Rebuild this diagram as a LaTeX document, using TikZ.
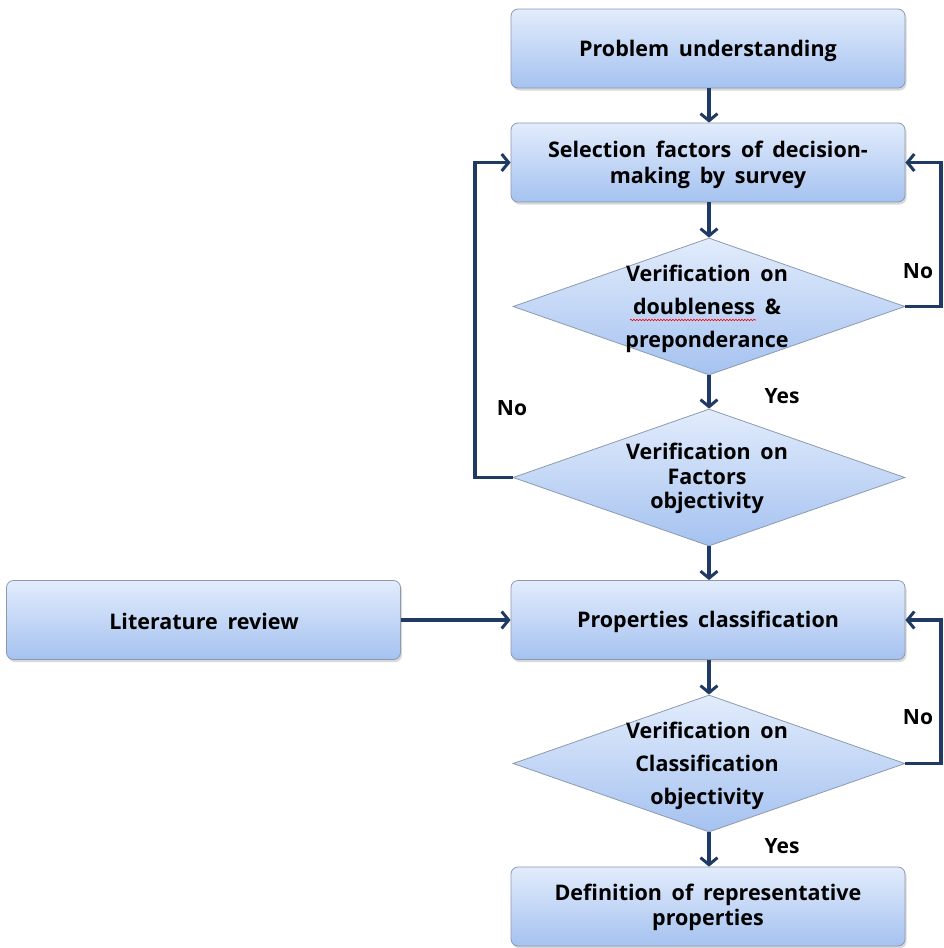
\documentclass[tikz,border=0pt]{standalone}
\usepackage{fontspec}
\setmainfont{Open Sans}
\usetikzlibrary{arrows.meta,shapes.geometric,shadows,decorations.pathmorphing}
\definecolor{linec}{HTML}{1F3B63}
\definecolor{topc}{HTML}{E2ECFC}
\definecolor{botc}{HTML}{A5C2F0}
\definecolor{edgec}{HTML}{8C9AB0}
\tikzset{
  boxnode/.style={draw=edgec, line width=0.8pt, rounded corners=7pt, top color=topc, bottom color=botc,
    minimum width=394pt, minimum height=79pt, inner sep=0pt,
    drop shadow={opacity=0.3, shadow xshift=1.5pt, shadow yshift=-2.5pt}},
  diamnode/.style={draw=edgec, line width=0.8pt, diamond, top color=topc, bottom color=botc,
    minimum width=392pt, minimum height=137pt, inner sep=0pt},
  txt/.style={font=\bfseries\fontsize{21.5}{25.5}\selectfont, align=center, text=black},
  dtxt/.style={font=\bfseries\fontsize{21.5}{33}\selectfont, align=center, text=black},
  lbl/.style={font=\bfseries\fontsize{21}{24}\selectfont, text=black},
  conn/.style={draw=linec, line width=3.2pt},
  arr/.style={conn, -{Straight Barb[length=7pt,width=17pt,line width=3pt]}},
}
\newcommand{\ws}{\hspace{0.45em}}
\begin{document}
\begin{tikzpicture}[x=1pt,y=-1pt]
\useasboundingbox (0,0) rectangle (944,948);
% boxes
\node[boxnode] (pu) at (708,48.5) {};
\node[txt] (put) at (708,50.5) {Problem\ws understanding};
\node[boxnode] (sf) at (708,162.5) {};
\node[txt] (sft) at (708,165) {Selection\ws factors\ws of\ws decision-\\making\ws by\ws survey};
\node[diamnode] (d1) at (709,306.5) {};
\node[dtxt] (d1t) at (707,308.5) {Verification\ws on\\doubleness\ws \&\\preponderance};
\draw[red, line width=0.6pt, decorate, decoration={snake, amplitude=0.8pt, segment length=3pt}] (630,320) -- (756,320);
\node[diamnode] (d2) at (709,477.5) {};
\node[dtxt] (d2t) at (707,478) {Verification\ws on\\[-8pt]Factors\\[-9pt]objectivity};
\node[boxnode] (lr) at (203.5,620) {};
\node[txt] (lrt) at (204,621) {Literature\ws review};
\node[boxnode] (pc) at (708,620) {};
\node[txt] (pct) at (708,621.5) {Properties\ws classification};
\node[diamnode] (d3) at (709,763.5) {};
\node[dtxt] (d3t) at (707,765.5) {Verification\ws on\\Classification\\objectivity};
\node[boxnode] (df) at (708,906.5) {};
\node[txt] (dft) at (708,907.5) {Definition\ws of\ws representative\\properties};
% connectors
\draw[arr] (pu.south -| 709,0) -- (sf.north -| 709,0);
\draw[arr] (sf.south -| 709,0) -- (d1.north);
\draw[arr] (d1.south) -- (d2.north);
\draw[arr] (d2.south) -- (pc.north -| 709,0);
\draw[arr] (lr.east) -- (pc.west);
\draw[arr] (pc.south -| 709,0) -- (d3.north);
\draw[arr] (d3.south) -- (df.north -| 709,0);
\coordinate (r1) at (941,306.5);
\coordinate (r3) at (941,763.5);
\coordinate (l2) at (475,477.5);
\draw[arr] (d1.east) -- (r1) |- (sf.east);
\draw[arr] (d2.west) -- (l2) |- (sf.west);
\draw[arr] (d3.east) -- (r3) |- (pc.east);
% labels
\node[lbl] (no1) at (918,271) {No};
\node[lbl] (no2) at (512,408) {No};
\node[lbl] (no3) at (918,717) {No};
\node[lbl] (yes1) at (782,396) {Yes};
\node[lbl] (yes2) at (782,846) {Yes};
\end{tikzpicture}
\end{document}
